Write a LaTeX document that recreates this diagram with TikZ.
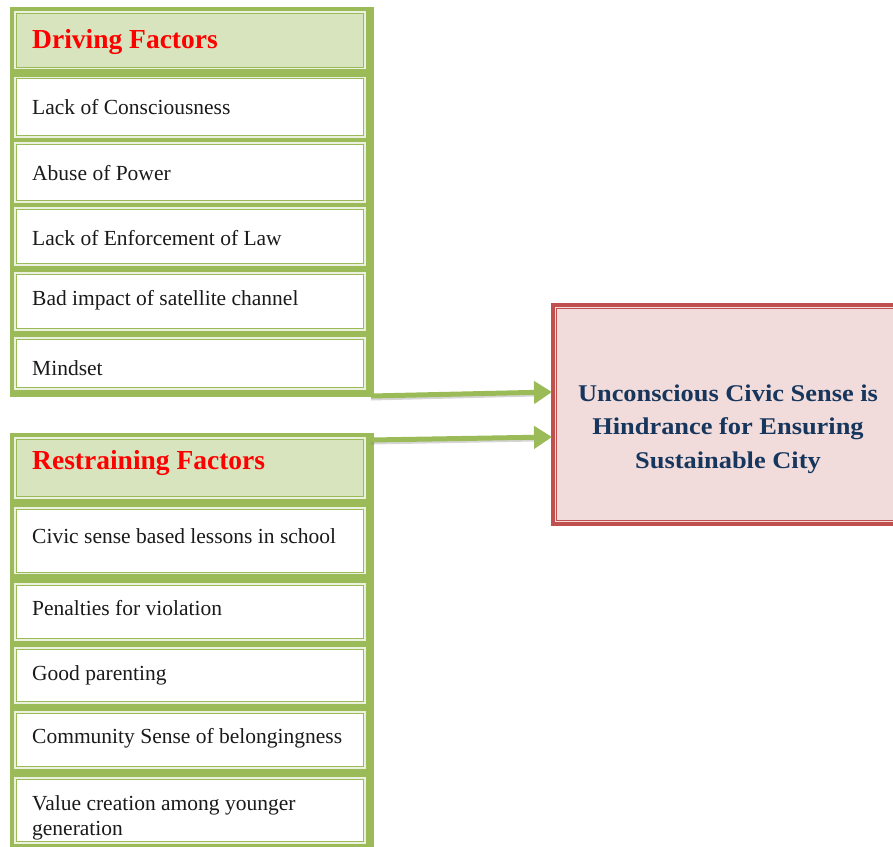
\documentclass[tikz,border=0pt]{standalone}
\usepackage{fontspec}
\setmainfont{Liberation Serif}
\newfontfamily\widebold[FakeStretch=1.1]{Liberation Serif}
\usetikzlibrary{arrows.meta,fit}

\definecolor{tgreen}{HTML}{9BBB59}
\definecolor{tpale}{HTML}{EBF1DE}
\definecolor{thead}{HTML}{D7E4BD}
\definecolor{bred}{HTML}{C0504D}
\definecolor{bpink}{HTML}{F2DCDB}
\definecolor{navy}{HTML}{17365D}
\definecolor{ink}{HTML}{1A1A1A}

\tikzset{
  tablebg/.style={fill=tgreen, draw=none, inner sep=0pt},
  cellbox/.style={draw=tgreen, double=tpale, double distance=1.1pt, line width=1.1pt,
                  fill=white, inner sep=0pt},
  headbox/.style={cellbox, fill=thead},
  item/.style={anchor=base west, inner sep=0pt, text=ink,
               font=\fontsize{21.5}{26}\selectfont},
  headtext/.style={anchor=base west, inner sep=0pt, text=red,
                   font=\fontsize{27.5}{32}\selectfont\bfseries},
  goalbox/.style={fill=bpink, draw=bred, line width=4.5pt, inner sep=0pt},
  goaltext/.style={align=center, inner sep=0pt, text=navy,
                   font=\widebold\bfseries\fontsize{24}{33.5}\selectfont},
  linkshade/.style={draw=black!55, opacity=0.3, line width=4pt},
  link/.style={draw=tgreen, line width=5pt, -{Triangle[length=18pt,width=22pt]}},
}

\begin{document}
\begin{tikzpicture}[x=1pt,y=-1pt]
\useasboundingbox (0,0) rectangle (893,846);
\clip (0,0) rectangle (893,846);

% ---- driving factors table ----
\node[tablebg, fit={(10,7) (374,397)}] (drv) {};
\node[headbox, fit={(15,12) (365,68.5)}] (d0) {};
\node[cellbox, fit={(15,77.5) (365,137)}] (d1) {};
\node[cellbox, fit={(15,143) (365,202)}] (d2) {};
\node[cellbox, fit={(15,208) (365,265)}] (d3) {};
\node[cellbox, fit={(15,273) (365,330)}] (d4) {};
\node[cellbox, fit={(15,338) (365,389)}] (d5) {};

\node[headtext] (d0t) at (32,48) {Driving Factors};
\node[item] (d1t) at (32,114) {Lack of Consciousness};
\node[item] (d2t) at (32,180) {Abuse of Power};
\node[item] (d3t) at (32,245) {Lack of Enforcement of Law};
\node[item] (d4t) at (32,305) {Bad impact of satellite channel};
\node[item] (d5t) at (32,375) {Mindset};

% ---- restraining factors table ----
\node[tablebg, fit={(10,433) (374,850)}] (rst) {};
\node[headbox, fit={(15,438) (365,498)}] (r0) {};
\node[cellbox, fit={(15,508) (365,573.5)}] (r1) {};
\node[cellbox, fit={(15,584) (365,640)}] (r2) {};
\node[cellbox, fit={(15,648) (365,703)}] (r3) {};
\node[cellbox, fit={(15,712) (365,768)}] (r4) {};
\node[cellbox, fit={(15,778) (365,843)}] (r5) {};

\node[headtext] (r0t) at (32,469) {Restraining Factors};
\node[item] (r1t) at (32,543) {Civic sense based lessons in school};
\node[item] (r2t) at (32,615) {Penalties for violation};
\node[item] (r3t) at (32,680) {Good parenting};
\node[item] (r4t) at (32,743) {Community Sense of belongingness};
\node[item, align=left, anchor=north west] (r5t) at (32,795)
  {Value creation among younger\\[-0.5pt]generation};

% ---- outcome box ----
\node[goalbox, fit={(553,305) (912,524)}] (goal) {};
\draw[bred, line width=1.2pt]
  ([shift={(6,6)}]goal.north west) rectangle ([shift={(-6,-6)}]goal.south east);
\node[goaltext] (goalt) at (728,429)
  {Unconscious Civic Sense is\\Hindrance for Ensuring\\Sustainable City};

% ---- connectors, each with a soft shadow underneath ----
\coordinate (a1s) at (371,396);
\coordinate (a1e) at (552,392);
\coordinate (a2s) at (371,440);
\coordinate (a2e) at (552,437);
\draw[linkshade] ([yshift=-2.5pt]a1s) -- ([xshift=-17pt,yshift=-2.5pt]a1e);
\draw[linkshade] ([yshift=-2.5pt]a2s) -- ([xshift=-17pt,yshift=-2.5pt]a2e);
\draw[link] (a1s) -- (a1e);
\draw[link] (a2s) -- (a2e);
\end{tikzpicture}
\end{document}
